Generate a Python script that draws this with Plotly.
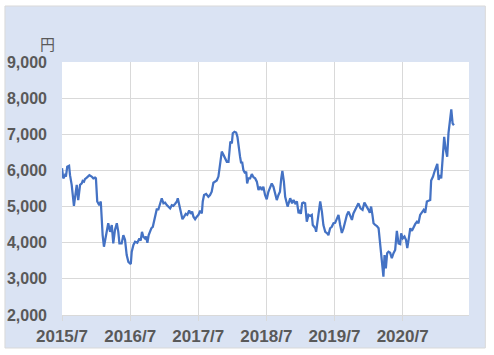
import plotly.graph_objects as go

dates = [
    "2015-07-01","2015-07-08","2015-07-17","2015-07-22","2015-07-29","2015-08-08","2015-08-13","2015-08-22",
    "2015-09-03","2015-09-13","2015-09-18","2015-09-26","2015-10-06","2015-10-15","2015-10-20","2015-10-27",
    "2015-11-01","2015-11-11","2015-11-25","2015-12-07","2015-12-16","2015-12-25","2015-12-30",
    "2016-01-06","2016-01-17","2016-01-25","2016-01-30","2016-02-04","2016-02-11","2016-02-21","2016-02-26",
    "2016-03-05","2016-03-15","2016-03-24","2016-04-01","2016-04-10","2016-04-20","2016-04-28","2016-05-04",
    "2016-05-16","2016-05-25","2016-06-03","2016-06-12","2016-06-21","2016-07-04","2016-07-09","2016-07-18",
    "2016-07-27","2016-08-08","2016-08-19","2016-08-26","2016-09-02","2016-09-09","2016-09-18","2016-09-24",
    "2016-10-01","2016-10-08","2016-10-15","2016-10-22","2016-10-30","2016-11-06","2016-11-13","2016-11-20",
    "2016-11-29","2016-12-08","2016-12-17","2016-12-26",
    "2017-01-04","2017-01-13","2017-01-22","2017-01-31","2017-02-09","2017-02-17","2017-02-26","2017-03-08",
    "2017-03-13","2017-03-22","2017-03-29","2017-04-07","2017-04-16","2017-04-25","2017-05-03","2017-05-13",
    "2017-05-22","2017-05-29","2017-06-05","2017-06-14","2017-06-23","2017-07-02","2017-07-11","2017-07-20",
    "2017-07-25","2017-08-01","2017-08-12","2017-08-24","2017-09-02","2017-09-11","2017-09-20","2017-09-29",
    "2017-10-08","2017-10-17","2017-10-26","2017-11-04","2017-11-13","2017-11-22","2017-12-01","2017-12-10",
    "2017-12-15","2017-12-20","2017-12-28",
    "2018-01-02","2018-01-11","2018-01-20","2018-01-27","2018-02-01","2018-02-10","2018-02-16","2018-02-21",
    "2018-02-28","2018-03-09","2018-03-15","2018-03-20","2018-03-27","2018-04-05","2018-04-14","2018-04-23",
    "2018-05-02","2018-05-11","2018-05-20","2018-05-29","2018-06-07","2018-06-15","2018-06-24","2018-07-03",
    "2018-07-12","2018-07-21","2018-07-30","2018-08-08","2018-08-17","2018-08-26","2018-09-04","2018-09-12",
    "2018-09-19","2018-09-25","2018-10-03","2018-10-10","2018-10-23","2018-10-30","2018-11-06","2018-11-16",
    "2018-11-24","2018-12-03","2018-12-12","2018-12-21","2018-12-26",
    "2019-01-02","2019-01-09","2019-01-16","2019-01-25","2019-02-03","2019-02-12","2019-02-21","2019-03-02",
    "2019-03-07","2019-03-16","2019-03-21","2019-03-25","2019-04-01","2019-04-09","2019-04-16","2019-04-25",
    "2019-05-03","2019-05-13","2019-05-22","2019-05-30","2019-06-08","2019-06-17","2019-06-26","2019-07-05",
    "2019-07-14","2019-07-23","2019-08-01","2019-08-10","2019-08-19","2019-08-28","2019-09-06","2019-09-15",
    "2019-09-24","2019-10-03","2019-10-11","2019-10-20","2019-10-29","2019-11-07","2019-11-18","2019-11-29",
    "2019-12-09","2019-12-20","2019-12-31",
    "2020-01-07","2020-01-14","2020-01-21","2020-01-27","2020-02-05","2020-02-14","2020-02-23","2020-03-01",
    "2020-03-08","2020-03-15","2020-03-20","2020-03-26","2020-04-02","2020-04-09","2020-04-16","2020-04-25",
    "2020-05-04","2020-05-13","2020-05-22","2020-05-31","2020-06-09","2020-06-18","2020-06-23","2020-07-02",
    "2020-07-11","2020-07-19","2020-07-26","2020-08-02","2020-08-11","2020-08-20","2020-08-28","2020-09-07",
    "2020-09-16","2020-09-24","2020-10-03","2020-10-13","2020-10-22","2020-10-30","2020-11-08","2020-11-17",
    "2020-11-26","2020-12-01","2020-12-11","2020-12-19","2020-12-27",
    "2021-01-03","2021-01-10","2021-01-17","2021-01-24","2021-02-02","2021-02-09","2021-02-16","2021-02-25",
    "2021-03-04","2021-03-13","2021-03-19","2021-03-26","2021-04-02",
]

prices = [
    6060,5780,5870,5830,6100,6130,5870,5600,
    5020,5410,5600,5180,5600,5640,5710,5690,
    5760,5800,5870,5830,5780,5800,5780,
    5140,5040,5140,4580,4210,3890,4210,4350,
    4540,4300,4490,3980,4350,4540,4300,3980,
    3980,4210,4080,3660,3470,3410,3750,3940,
    4030,4000,4120,4060,4300,4170,4120,4170,
    4000,4210,4300,4400,4440,4630,4770,4920,
    4920,5090,5230,5090,
    5110,5040,5000,4950,5040,5020,5070,5140,
    5230,5040,4910,4650,4720,4800,4770,4890,
    4800,4860,4720,4650,4720,4770,4890,4810,
    5140,5320,5350,5270,5320,5410,5660,5690,
    5720,5830,6150,6520,6430,6340,6240,6240,
    6520,6800,6750,
    7030,7070,7050,6930,6660,6380,6200,6240,
    6010,5920,5970,5640,5780,5780,5900,5810,
    5780,5690,5460,5550,5460,5550,5320,5200,
    5410,5550,5640,5550,5370,5180,5320,5410,
    5780,5990,5700,5270,5000,5140,5230,5090,
    5180,5090,5140,4810,4910,
    4800,5090,5110,5090,4580,4770,4740,4770,
    4490,4440,4400,4300,4580,4830,5140,4860,
    4490,4300,4270,4210,4400,4440,4540,4550,
    4680,4770,4490,4270,4400,4630,4770,4860,
    4720,4630,4810,4910,4980,5090,4950,4910,
    5110,5020,4910,
    4830,5000,4770,4540,4490,4460,4400,4080,
    3710,3340,3060,3660,3290,3710,3750,3720,
    3570,3710,3800,4330,3980,3960,4260,4120,
    4170,4080,3850,4080,4400,4330,4440,4520,
    4580,4540,4770,4830,4910,4830,5140,5160,
    5180,5720,5830,5970,6100,
    6180,5740,5870,5780,6470,6930,6610,6380,
    7030,7530,7690,7300,7250,
]

tick_dates = ["2015-07-01", "2016-07-01", "2017-07-01", "2018-07-01", "2019-07-01", "2020-07-01"]
tick_labels = ["2015/7", "2016/7", "2017/7", "2018/7", "2019/7", "2020/7"]
y_ticks = [2000, 3000, 4000, 5000, 6000, 7000, 8000, 9000]
unit_label = "円"

W, H = 494, 355
L, R, T, B = 62, 25.3, 62, 40
pw, ph = W - L - R, H - T - B

def px_x(x):
    return (x - L) / pw

def px_y(y):
    return (H - B - y) / ph

fig = go.Figure()
fig.add_trace(go.Scatter(
    x=dates, y=prices, mode="lines",
    line=dict(color="#4472c4", width=2.25),
    hoverinfo="skip", showlegend=False,
))

grey = "#595959"
fig.update_layout(
    width=W, height=H,
    margin=dict(l=L, r=R, t=T, b=B, pad=0, autoexpand=False),
    paper_bgcolor="white",
    plot_bgcolor="white",
    font=dict(family="Liberation Sans, Arial, sans-serif", color=grey),
    shapes=[
        dict(type="rect", xref="paper", yref="paper", layer="below",
             x0=px_x(5), x1=px_x(485), y0=px_y(348), y1=px_y(6),
             fillcolor="#dae3f3", line=dict(color="#d9d9d9", width=1)),
        dict(type="rect", xref="paper", yref="paper", layer="below",
             x0=0, x1=1, y0=0, y1=1, fillcolor="white", line=dict(width=0)),
    ],
    annotations=[
        dict(text=unit_label, xref="paper", yref="paper",
             x=px_x(47.5), y=px_y(43), xanchor="center", yanchor="middle",
             showarrow=False,
             font=dict(family="Noto Sans CJK JP", size=15, color=grey)),
    ],
)

fig.update_xaxes(
    type="date",
    range=["2015-07-01", "2021-06-22"],
    tickvals=tick_dates, ticktext=tick_labels,
    showgrid=True, gridcolor="#d9d9d9", gridwidth=1,
    showline=True, linecolor="#d9d9d9", linewidth=1,
    ticks="outside", ticklen=5, tickcolor="#d9d9d9", tickwidth=1,
    tickfont=dict(size=17, color=grey, weight="bold"),
    ticklabelstandoff=1,
    zeroline=False, automargin=False,
)
fig.update_yaxes(
    range=[2000, 9000],
    tickvals=y_ticks, tickformat=",d",
    showgrid=True, gridcolor="#d9d9d9", gridwidth=1,
    showline=False, zeroline=False,
    ticks="", tickfont=dict(size=16, color=grey, weight="bold"),
    ticklabelstandoff=14, automargin=False,
)

fig.write_html("out.html")
